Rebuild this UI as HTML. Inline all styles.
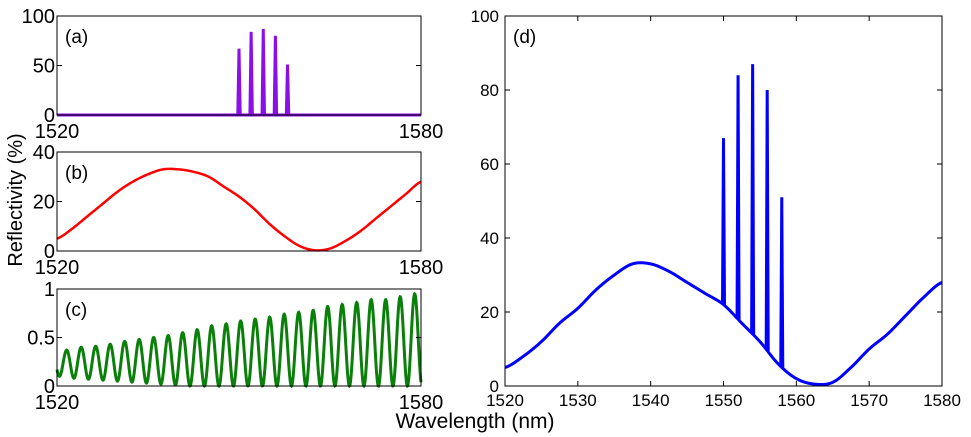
<!DOCTYPE html>
<html><head><meta charset="utf-8"><style>
html,body{margin:0;padding:0;background:#fff;width:971px;height:437px;overflow:hidden}
svg text{font-family:"Liberation Sans",sans-serif;fill:#000}
</style></head><body>
<svg id="fig" width="971" height="437" viewBox="0 0 971 437">
<text x="22" y="200" font-size="20" text-anchor="middle" transform="rotate(-90 22 200)">Reflectivity (%)</text>
<text x="475" y="428" font-size="21" text-anchor="middle">Wavelength (nm)</text>
</svg>
<script>
// peaks (grating reflections)
const peakPos = [1550, 1552, 1554, 1556, 1558];
const peakVal = [67, 84, 87, 80, 51];
// panel b / d baseline samples
const baseX = [1520,1522.5,1525,1527.5,1530,1532.5,1535,1537.5,1540,1542.5,1545,1547.5,1550,1552.5,1555,1557.5,1560,1562.5,1565,1567.5,1570,1572.5,1575,1577.5,1580];
const baseD = [5,8,12,17,21,26,30,33,33,31,28,25,22,17,12,6,2,0.5,1,5,10,14,19,24,28];
const baseB = [5,9,14,19,24,28,31,33,33,32,30,26,22,17,11,6,2,0.3,1,4,8,13,18,23,28];
// panel c oscillation
const cPeaks = [0.37,0.40,0.41,0.43,0.46,0.48,0.50,0.52,0.55,0.58,0.62,0.64,0.67,0.69,0.71,0.74,0.76,0.78,0.82,0.84,0.86,0.89,0.89,0.92,0.95];
const cTroughs = [0.10,0.08,0.07,0.06,0.05,0.04,0.03,0.02,0.01,0,0,0,0,0,0,0,0,0,0,0,0,0,0,0,0,0];
const cFirst = 1521.6, cSpacing = 2.39;

const svg = document.getElementById('fig');
const NS = 'http://www.w3.org/2000/svg';
function mk(tag, attrs, parent){const e=document.createElementNS(NS,tag);for(const k in attrs)e.setAttribute(k,attrs[k]);(parent||svg).appendChild(e);return e;}
function interp(xs, ys, x){
  let i=0; while(i<xs.length-2 && x>xs[i+1]) i++;
  const t=(x-xs[i])/(xs[i+1]-xs[i]);
  const p0=ys[Math.max(0,i-1)], p1=ys[i], p2=ys[i+1], p3=ys[Math.min(ys.length-1,i+2)];
  const t2=t*t, t3=t2*t;
  return 0.5*((2*p1)+(-p0+p2)*t+(2*p0-5*p1+4*p2-p3)*t2+(-p0+3*p1-3*p2+p3)*t3);
}

function panel(name, L, T, W, H, ymin, ymax, xticks, yticks, ylabels){
  const sx = v => L + (v-1520)/60*W;
  const sy = v => T + H - (v-ymin)/(ymax-ymin)*H;
  const g = mk('g', {});
  
  
  return {g, sx, sy, L, T, W, H, xticks, yticks, ylabels};
}
function frame(p, xlabels, fs, yoff){
  const r = mk('rect',{x:p.L,y:p.T,width:p.W,height:p.H,fill:'none',stroke:'#000','stroke-width':1},p.g);
  
  
  p.xticks.forEach((t,i)=>{
    const x=p.sx(t);
    mk('line',{x1:x,y1:p.T+p.H,x2:x,y2:p.T+p.H-5,stroke:'#000'},p.g);
    mk('line',{x1:x,y1:p.T,x2:x,y2:p.T+5,stroke:'#000'},p.g);
    const tx = mk('text',{x:x,y:p.T+p.H+fs+3,'font-size':fs,'text-anchor':'middle'},p.g);
    tx.textContent = xlabels[i];
    
    
  });
  p.yticks.forEach((t,i)=>{
    const y=p.sy(t);
    mk('line',{x1:p.L,y1:y,x2:p.L+5,y2:y,stroke:'#000'},p.g);
    mk('line',{x1:p.L+p.W,y1:y,x2:p.L+p.W-5,y2:y,stroke:'#000'},p.g);
    const tx = mk('text',{x:p.L-yoff,y:y+fs*0.35,'font-size':fs,'text-anchor':'end'},p.g);
    tx.textContent = p.ylabels[i];
    
    
  });
}
function label(p, s){
  const t = mk('text',{x:p.L+8,y:p.T+27,'font-size':19},p.g);
  t.textContent = s;
  
  
}
function peakAdd(x, base, w){
  let v = base;
  for(let i=0;i<peakPos.length;i++){
    const d = Math.abs(x-peakPos[i]);
    if(d<w) v = Math.max(v, base + (peakVal[i]-base)*(1-d/w));
  }
  return v;
}

// panel a
const pa = panel('panel-a',57,16,364,99,0,100,[1520,1580],[0,50,100],['0','50','100']);
(function(){
  let d='';
  for(let x=1520;x<=1580.001;x+=0.02){
    const v = peakAdd(x,0,0.2);
    d += (d?'L':'M')+pa.sx(x).toFixed(2)+','+pa.sy(v).toFixed(2);
  }
  const l = mk('path',{d:d,fill:'none',stroke:'#8b0fe8','stroke-width':3},pa.g);
  
  
})();
frame(pa,['1520','1580'],20,2); label(pa,'(a)');

// panel b
const pb = panel('panel-b',57,152,364,99,0,40,[1520,1580],[0,20,40],['0','20','40']);
(function(){
  let d='';
  for(let x=1520;x<=1580.001;x+=0.25){
    d += (d?'L':'M')+pb.sx(x).toFixed(2)+','+pb.sy(interp(baseX,baseB,x)).toFixed(2);
  }
  const l = mk('path',{d:d,fill:'none',stroke:'#f00','stroke-width':2.5},pb.g);
  
  
})();
frame(pb,['1520','1580'],20,2); label(pb,'(b)');

// panel c
const pc = panel('panel-c',57,289,364,97,0,1,[1520,1580],[0,0.5,1],['0','0.5','1']);
(function(){
  let d='';
  for(let x=1520;x<=1580.001;x+=0.05){
    const k = (x-cFirst)/cSpacing;
    const i = Math.max(0,Math.min(cPeaks.length-1,Math.round(k)));
    const tI = Math.max(0,Math.min(cTroughs.length-1,Math.floor(k)+1));
    const pk = cPeaks[i], tr = cTroughs[tI];
    const v = tr + (pk-tr)*(0.5+0.5*Math.cos(2*Math.PI*k));
    d += (d?'L':'M')+pc.sx(x).toFixed(2)+','+pc.sy(v).toFixed(2);
  }
  const l = mk('path',{d:d,fill:'none',stroke:'#0a800a','stroke-width':3},pc.g);
  
  
})();
frame(pc,['1520','1580'],20,2); label(pc,'(c)');

// panel d
const pd = panel('panel-d',505,16,437,370,0,100,[1520,1530,1540,1550,1560,1570,1580],[0,20,40,60,80,100],['0','20','40','60','80','100']);
(function(){
  let d='';
  for(let x=1520;x<=1580.001;x+=0.02){
    const b = interp(baseX,baseD,x);
    const v = peakAdd(x,b,0.14);
    d += (d?'L':'M')+pd.sx(x).toFixed(2)+','+pd.sy(v).toFixed(2);
  }
  const l = mk('path',{d:d,fill:'none',stroke:'#0000ff','stroke-width':3},pd.g);
  
  
})();
frame(pd,['1520','1530','1540','1550','1560','1570','1580'],17,6); label(pd,'(d)');
</script>
</body></html>
